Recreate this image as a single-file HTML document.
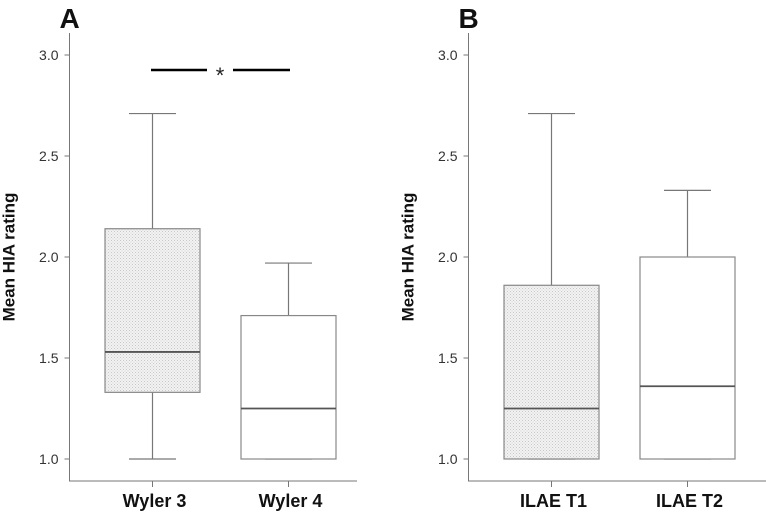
<!DOCTYPE html>
<html><head><meta charset="utf-8"><style>
body{margin:0;background:#fff;}
svg text{font-family:"Liberation Sans",Arial,sans-serif;}
</style></head><body>
<svg id="chart" width="766" height="516" xmlns="http://www.w3.org/2000/svg">
<defs>
<pattern id="dots" width="3" height="3" patternUnits="userSpaceOnUse">
<rect width="3" height="3" fill="#f2f2f2"/><rect width="1" height="1" fill="#c8c8c8"/><rect x="1.5" y="1.5" width="1" height="1" fill="#d4d4d4"/>
</pattern>
</defs>
</svg>
<script>
const ticks=[1.0,1.5,2.0,2.5,3.0];
const tickLabels=["1.0","1.5","2.0","2.5","3.0"];
const catsA=["Wyler 3","Wyler 4"];
const minA=[1.0,1.0];
const q1A=[1.33,1.0];
const medA=[1.53,1.25];
const q3A=[2.14,1.71];
const maxA=[2.71,1.97];
const catsB=["ILAE T1","ILAE T2"];
const minB=[1.0,1.0];
const q1B=[1.0,1.0];
const medB=[1.25,1.36];
const q3B=[1.86,2.0];
const maxB=[2.71,2.33];
const fills=["url(#dots)","#fff"];
const NS="http://www.w3.org/2000/svg";
const svg=document.getElementById('chart');
function el(t,a,p){const e=document.createElementNS(NS,t);for(const k in a)e.setAttribute(k,a[k]);(p||svg).appendChild(e);return e;}
function y(v){return 459-(v-1)*202;}
function panel(ox,letter,cats,mn,q1,md,q3,mx,right){
  const g=el('g',{});
  
  
  const L=el('text',{x:ox-10,y:28,'font-size':28,'font-weight':'bold',fill:'#111'},g);L.textContent=letter;
  
  
  const ax=el('path',{d:`M${ox} 33V481H${right}`,stroke:'#777',fill:'none','stroke-width':1},g);
  
  
  ticks.forEach((t,i)=>{
    el('line',{x1:ox-5,x2:ox,y1:y(t),y2:y(t),stroke:'#777'},g);
    const tx=el('text',{x:ox-11,y:y(t)+5,'text-anchor':'end','font-size':14,fill:'#333'},g);tx.textContent=tickLabels[i];
    
    
  });
  const yt=el('text',{transform:`translate(${ox-55},257) rotate(-90)`,'text-anchor':'middle','font-size':17,'font-weight':'bold',fill:'#111'},g);yt.textContent='Mean HIA rating';
  
  
  const centers=[ox+83,ox+219];
  cats.forEach((c,i)=>{
    const cx=centers[i],w=95,cw=47;
    const b=el('g',{},g);
    
    
    el('line',{x1:cx,x2:cx,y1:y(mx[i]),y2:y(q3[i]),stroke:'#777','stroke-width':1.2},b);
    el('line',{x1:cx,x2:cx,y1:y(q1[i]),y2:y(mn[i]),stroke:'#777','stroke-width':1.2},b);
    el('line',{x1:cx-cw/2,x2:cx+cw/2,y1:y(mx[i]),y2:y(mx[i]),stroke:'#777','stroke-width':1.2},b);
    el('line',{x1:cx-cw/2,x2:cx+cw/2,y1:y(mn[i]),y2:y(mn[i]),stroke:'#777','stroke-width':1.2},b);
    el('rect',{x:cx-w/2,y:y(q3[i]),width:w,height:y(q1[i])-y(q3[i]),fill:fills[i],stroke:'#888','stroke-width':1.2},b);
    el('line',{x1:cx-w/2,x2:cx+w/2,y1:y(md[i]),y2:y(md[i]),stroke:'#555','stroke-width':1.8},b);
    el('line',{x1:cx,x2:cx,y1:481,y2:487,stroke:'#777'},g);
    const xl=el('text',{x:cx+2,y:507,'text-anchor':'middle','font-size':18,'font-weight':'bold',fill:'#111'},g);xl.textContent=c;
    
    
  });
}
panel(69.5,'A',catsA,minA,q1A,medA,q3A,maxA,357);
panel(468.5,'B',catsB,minB,q1B,medB,q3B,maxB,766);
const sig=el('g',{});


el('line',{x1:151,x2:207,y1:70,y2:70,stroke:'#000','stroke-width':2.5},sig);
el('line',{x1:233,x2:290,y1:70,y2:70,stroke:'#000','stroke-width':2.5},sig);
const st=el('text',{x:220,y:83,'text-anchor':'middle','font-size':22,fill:'#222'},sig);st.textContent='*';
</script>
</body></html>
